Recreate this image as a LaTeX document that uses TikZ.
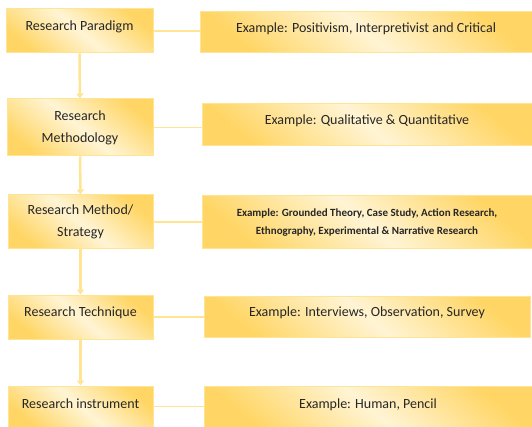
\documentclass[tikz,border=0pt]{standalone}
\usepackage{fontspec}
\setmainfont{Carlito}
\usetikzlibrary{arrows.meta}
\definecolor{gold}{HTML}{FFD666}
\definecolor{cream}{HTML}{FFF4D4}
\definecolor{rim}{HTML}{FFE494}
\definecolor{ink}{HTML}{262626}
\begin{document}
\begin{tikzpicture}[x=1pt,y=-1pt,
  box/.style={shape=rectangle,draw=rim,line width=1pt,top color=gold,bottom color=gold,middle color=cream,shading angle=-40,text=ink,align=center,inner sep=0pt},
  stage/.style={box,font=\fontsize{14}{22}\selectfont},
  sample/.style={box,font=\fontsize{14}{18}\selectfont},
  lift/.style={text depth=10pt},
  link/.style={rim,line width=1.5pt},
  flow/.style={rim,line width=2.5pt,-{Triangle[width=7pt,length=5pt]}}]
\useasboundingbox (0,0) rectangle (532,427);
% left column
\node[stage,lift,minimum width=147pt,minimum height=44pt](P1) at (79.5,31){Research Paradigm};
\node[stage,minimum width=146pt,minimum height=57pt](P2) at (80,127.5){Research\\Methodology};
\node[stage,minimum width=145pt,minimum height=54pt](P3) at (80.5,222){Research Method/\\Strategy};
\node[stage,lift,minimum width=145pt,minimum height=44pt](P4) at (80.5,317){Research Technique};
\node[stage,text depth=6pt,minimum width=145pt,minimum height=41pt](P5) at (80.5,406.5){Research instrument};
% right column
\node[sample,lift,minimum width=332pt,minimum height=41pt](E1) at (366,32.5){Example: Positivism, Interpretivist and Critical};
\node[sample,lift,minimum width=330pt,minimum height=42pt](E2) at (367,125){Example: Qualitative \& Quantitative};
\node[sample,minimum width=330pt,minimum height=53pt,font=\fontsize{11}{18}\selectfont\bfseries](E3) at (367,222.5){Example: Grounded Theory, Case Study, Action Research,\\Ethnography, Experimental \& Narrative Research};
\node[sample,lift,minimum width=326pt,minimum height=41pt](E4) at (367,316.5){Example: Interviews, Observation, Survey};
\node[sample,text depth=6pt,minimum width=328pt,minimum height=41pt](E5) at (368,406.5){Example: Human, Pencil};
% links
\foreach \i in {1,...,5}
  \draw[link] (P\i.east) -- (P\i.east -| E\i.west);
\draw[flow] (P1) -- (P2);
\draw[flow] (P2) -- (P3);
\draw[flow] (P3) -- (P4);
\draw[flow] (P4) -- (P5);
\end{tikzpicture}
\end{document}
